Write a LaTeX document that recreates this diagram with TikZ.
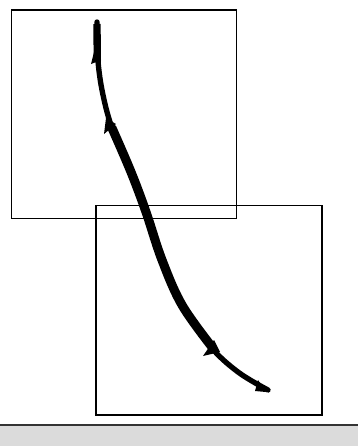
\documentclass[tikz,border=0pt]{standalone}
\begin{document}
\begin{tikzpicture}[x=0.75pt,y=-0.75pt,
  frame/.style={draw=black,line width=1pt},
  stroke/.style={draw=black,line width=4pt,line cap=round,line join=round},
  heavy/.style={draw=black,line width=6.8pt,line cap=round},
  barb/.style={fill=black}]
\useasboundingbox (0,0) rectangle (358,446);
\fill[white] (0,0) rectangle (358,446);
% band at bottom
\fill[gray!28] (0,425) rectangle (358,446);
\draw[black!80,line width=1.2pt] (0,425) -- (358,425);
% frames
\draw[frame] (11.5,10) rectangle (236.5,218.5);
\draw[frame] (96,205.5) rectangle (322,415);
% curve
\coordinate (p0) at (97,22);
\coordinate (p1) at (97.5,55);
\coordinate (p2) at (102,90);
\coordinate (p3) at (112,128);
\coordinate (p4) at (131,172);
\coordinate (p5) at (146,212);
\coordinate (p6) at (162,260);
\coordinate (p7) at (182,305);
\coordinate (p8) at (210,346);
\coordinate (p9) at (238,372);
\coordinate (p10) at (268,390);
\draw[stroke] plot[smooth,tension=0.6] coordinates {(p0) (p1) (p2) (p3) (p4) (p5) (p6) (p7) (p8) (p9) (p10)};
\draw[heavy] plot[smooth,tension=0.6] coordinates {(p3) (p4) (p5) (p6) (p7) (212,347)};
\draw[draw=black,line width=5.5pt] (97,24) -- (97.3,62);
% barbs
\fill[barb] (97,40) -- (91,64) -- (101,60) -- cycle;
\fill[barb] (106,118) -- (104,134) -- (116,124) -- cycle;
\fill[barb] (214,340) -- (203,356) -- (220,352) -- cycle;
\fill[barb] (258,380) -- (255,391) -- (266,392) -- cycle;
\end{tikzpicture}
\end{document}
